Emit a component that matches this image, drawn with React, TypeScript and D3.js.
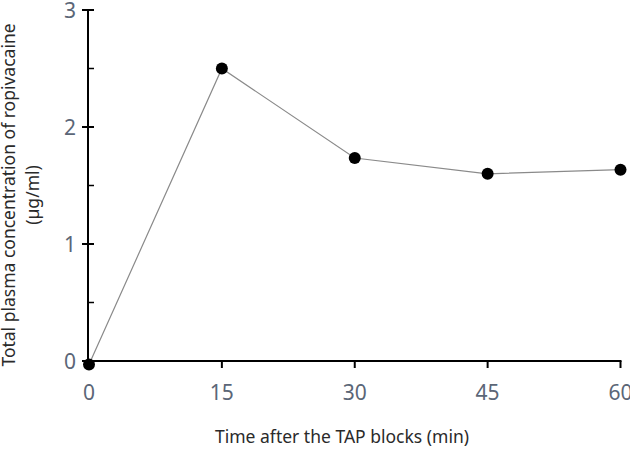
import React from 'react';
import { useEffect, useRef } from 'react';
import * as d3 from 'd3';

// sampling times (min) and mean plasma ropivacaine (µg/ml)
const times = [0, 15, 30, 45, 60];
const conc = [-0.03, 2.5, 1.735, 1.6, 1.635];
const xTicks = [0, 15, 30, 45, 60];
const yTicks = [0, 1, 2, 3];
const yMinorTicks = [0.5, 1.5, 2.5];

const tickColor = '#5b6677';
const font = "'Noto Sans', 'Open Sans', sans-serif";

function LineChart() {
    const svgNode = useRef(null);
    const width = 630;
    const height = 454;

    useEffect(() => {
        const svg = d3.select(svgNode.current);
        svg.selectAll('*').remove();

        const x = d3.scaleLinear().domain([0, 60]).range([89, 620.5]);
        const y = d3.scaleLinear().domain([0, 3]).range([361, 10]);
        const axisX = 88;

        //y axis
        const gy = svg.append('g');
        gy.append('line')
            .attr('x1', axisX).attr('x2', axisX)
            .attr('y1', y(3)).attr('y2', y(0))
            .attr('stroke', '#000').attr('stroke-width', 2);
        gy.selectAll('.major').data(yTicks).join('line')
            .attr('x1', axisX - 6).attr('x2', axisX + 6)
            .attr('y1', d => y(d)).attr('y2', d => y(d))
            .attr('stroke', '#000').attr('stroke-width', 2);
        gy.selectAll('.minor').data(yMinorTicks).join('line')
            .attr('x1', axisX).attr('x2', axisX + 6)
            .attr('y1', d => y(d)).attr('y2', d => y(d))
            .attr('stroke', '#000').attr('stroke-width', 1.5);
        gy.selectAll('text').data(yTicks).join('text')
            .attr('x', 70).attr('y', d => y(d) + 7.5)
            .attr('text-anchor', 'middle')
            .attr('fill', tickColor)
            .attr('font-family', font).attr('font-size', 21)
            .text(d => d);

        //x axis
        const gx = svg.append('g');
        gx.append('line')
            .attr('x1', axisX - 6).attr('x2', x(60) + 1)
            .attr('y1', y(0)).attr('y2', y(0))
            .attr('stroke', '#000').attr('stroke-width', 2);
        gx.selectAll('line.tick').data(xTicks.slice(1)).join('line')
            .attr('class', 'tick')
            .attr('x1', d => x(d)).attr('x2', d => x(d))
            .attr('y1', y(0)).attr('y2', y(0) + 7)
            .attr('stroke', '#000').attr('stroke-width', 2);
        gx.selectAll('text').data(xTicks).join('text')
            .attr('x', d => x(d)).attr('y', 400)
            .attr('text-anchor', 'middle')
            .attr('fill', tickColor)
            .attr('font-family', font).attr('font-size', 21)
            .text(d => d);

        //titles
        svg.append('text')
            .attr('x', 342).attr('y', 443)
            .attr('text-anchor', 'middle')
            .attr('fill', '#2a2a2a')
            .attr('font-family', font).attr('font-size', 17.5)
            .text('Time after the TAP blocks (min)');
        const yt = svg.append('text')
            .attr('transform', 'translate(15,195) rotate(-90)')
            .attr('text-anchor', 'middle')
            .attr('fill', '#2a2a2a')
            .attr('font-family', font).attr('font-size', 17.5);
        yt.append('tspan').attr('x', 0).attr('y', 0).text('Total plasma concentration of ropivacaine');
        yt.append('tspan').attr('x', 0).attr('y', 24).text('(\u00b5g/ml)');

        //series
        const pts = times.map((t, i) => [t, conc[i]]);
        const line = d3.line().x(d => x(d[0])).y(d => y(d[1]));
        svg.append('path')
            .datum(pts)
            .attr('d', line)
            .attr('fill', 'none')
            .attr('stroke', '#8a8a8a')
            .attr('stroke-width', 1.2);
        svg.selectAll('circle').data(pts).join('circle')
            .attr('cx', d => x(d[0]))
            .attr('cy', d => y(d[1]))
            .attr('r', 6)
            .attr('fill', '#000');
    }, []);

    return (
        <svg ref={svgNode} width={width} height={height}
            style={{ position: 'absolute', left: 0, top: 0, background: '#fff' }}></svg>
    );
}

export default function App() {
    return <LineChart />;
}
